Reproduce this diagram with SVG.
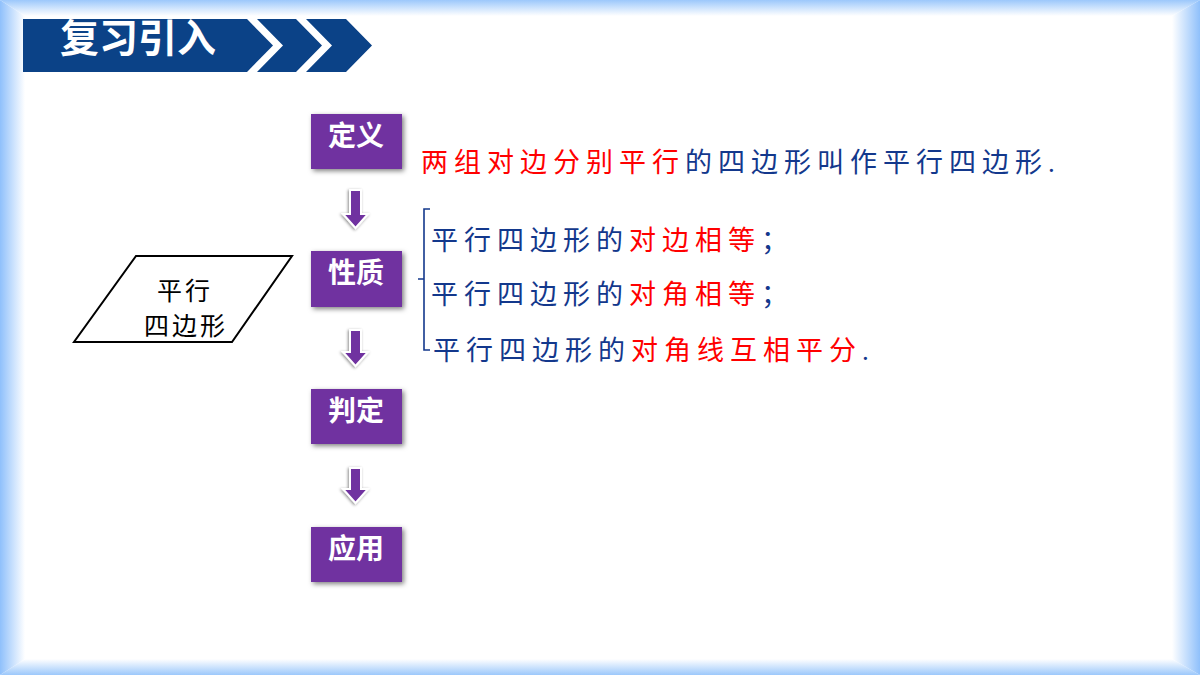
<svg xmlns="http://www.w3.org/2000/svg" width="1200" height="675" viewBox="0 0 1200 675">
<defs>
<linearGradient id="gT" x1="0" y1="0" x2="0" y2="1"><stop offset="0" stop-color="#9cc8fb"/><stop offset="1" stop-color="#ffffff"/></linearGradient>
<linearGradient id="gB" x1="0" y1="1" x2="0" y2="0"><stop offset="0" stop-color="#9cc8fb"/><stop offset="1" stop-color="#ffffff"/></linearGradient>
<linearGradient id="gL" x1="0" y1="0" x2="1" y2="0"><stop offset="0" stop-color="#8fc0fb"/><stop offset="1" stop-color="#ffffff"/></linearGradient>
<linearGradient id="gR" x1="1" y1="0" x2="0" y2="0"><stop offset="0" stop-color="#8fc0fb"/><stop offset="1" stop-color="#ffffff"/></linearGradient>
<filter id="sh" x="-20%" y="-20%" width="140%" height="140%"><feDropShadow dx="2" dy="2" stdDeviation="2.5" flood-color="#000" flood-opacity="0.5"/></filter>
<filter id="ash" x="-40%" y="-40%" width="180%" height="180%"><feDropShadow dx="-1" dy="1" stdDeviation="1.5" flood-color="#000" flood-opacity="0.45"/></filter>
</defs>
<style>
.box{fill:#7030a0;filter:url(#sh)}
.bt{font-family:"Noto Sans CJK SC",sans-serif;font-weight:700;font-size:28px;fill:#fff;text-anchor:middle}
.arr{fill:#7030a0;stroke:#fff;stroke-width:2;filter:url(#ash)}
.t{font-family:"Liberation Serif","Noto Sans CJK SC",serif;font-size:27px;letter-spacing:6px}
.r{fill:#ff0000}
.b{fill:#13388c}
</style>
<rect width="1200" height="675" fill="#fff"/>
<g id="frame">
<polygon points="0,0 1200,0 1172,16 25,16" fill="url(#gT)"/>
<polygon points="0,675 1200,675 1172,659 25,659" fill="url(#gB)"/>
<polygon points="0,0 25,16 25,659 0,675" fill="url(#gL)"/>
<polygon points="1200,0 1172,16 1172,659 1200,675" fill="url(#gR)"/>
</g>
<g id="header">
<polygon points="23,19 247,19 273,45.5 247,72 23,72" fill="#0b4287"/>
<polygon points="257,19 296,19 322,45.5 296,72 257,72 283,45.5" fill="#0b4287"/>
<polygon points="306,19 346,19 372,45.5 346,72 306,72 332,45.5" fill="#0b4287"/>
<text x="60" y="52" font-family="'Noto Sans CJK SC',sans-serif" font-weight="700" font-size="39" fill="#fff">复习引入</text>
</g>
<g id="node-def"><rect class="box" x="311" y="114" width="91" height="55"/><text class="bt" x="356" y="146">定义</text></g>
<g id="node-prop"><rect class="box" x="311" y="251" width="91" height="56"/><text class="bt" x="356" y="283">性质</text></g>
<g id="node-judge"><rect class="box" x="311" y="389" width="91" height="55"/><text class="bt" x="356" y="421">判定</text></g>
<g id="node-app"><rect class="box" x="311" y="527" width="91" height="55"/><text class="bt" x="356" y="559">应用</text></g>
<g id="node-para">
<polygon points="136,256 292,256 232,342 74,342" fill="#fff" stroke="#000" stroke-width="2"/>
<text x="185" y="300" font-family="'Liberation Serif','Noto Sans CJK SC',serif" font-size="25" letter-spacing="3" text-anchor="middle" fill="#000">平行</text>
<text x="186" y="335" font-family="'Liberation Serif','Noto Sans CJK SC',serif" font-size="25" letter-spacing="3" text-anchor="middle" fill="#000">四边形</text>
</g>
<g id="connectors">
<path class="arr" d="M350,190 H361 V214 H368 L355.5,228 L343,214 H350 Z"/>
<path class="arr" d="M350,330 H361 V352 H368 L355.5,366 L343,352 H350 Z"/>
<path class="arr" d="M350,468 H361 V489 H368 L355.5,503 L343,489 H350 Z"/>
<path d="M430,209 H424 V350 H430 M424,279 H418" fill="none" stroke="#13388c" stroke-width="1.6"/>
</g>
<g id="text-def">
<text class="t" x="421" y="172"><tspan class="r">两组对边分别平行</tspan><tspan class="b">的四边形叫作平行四边形.</tspan></text>
</g>
<g id="text-prop">
<text class="t" x="431" y="250"><tspan class="b">平行四边形的</tspan><tspan class="r">对边相等</tspan><tspan class="b">；</tspan></text>
<text class="t" x="431" y="304"><tspan class="b">平行四边形的</tspan><tspan class="r">对角相等</tspan><tspan class="b">；</tspan></text>
<text class="t" x="433" y="360"><tspan class="b">平行四边形的</tspan><tspan class="r">对角线互相平分</tspan><tspan class="b">.</tspan></text>
</g>
</svg>
